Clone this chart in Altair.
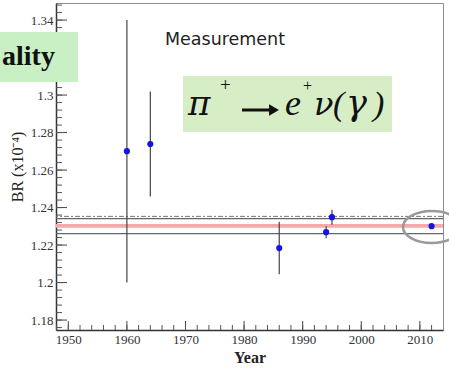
import altair as alt
import pandas as pd

# ---- data ----
years = [1960, 1964, 1986, 1994, 1995, 2012]
br = [1.2701, 1.2739, 1.2184, 1.2269, 1.2349, 1.2301]
br_err = [0.0700, 0.0280, 0.0140, 0.0032, 0.0040, 0.0004]

ref_dashed = [1.2353]
ref_solid = [1.2341, 1.2261]
band_lo = [1.2293]
band_hi = [1.2312]

y_major = [1.18, 1.20, 1.22, 1.24, 1.26, 1.28, 1.30, 1.32, 1.34]
y_labels = [1.18, 1.20, 1.22, 1.24, 1.26, 1.28, 1.30, 1.34]  # 1.32 is hidden by the box
x_labels = [1950, 1960, 1970, 1980, 1990, 2000, 2010]
y_minor = [round(1.176 + 0.004 * i, 3) for i in range(44)]
x_minor = [1948 + 2 * i for i in range(33)]

X_DOMAIN = [1947.9, 2013.95]
Y_DOMAIN = [1.1747, 1.3491]

W, H = 387, 327
SERIF = "Liberation Serif"
GREEK = "DejaVu Serif"

df = pd.DataFrame({"year": years, "br": br,
                   "lo": [b - e for b, e in zip(br, br_err)],
                   "hi": [b + e for b, e in zip(br, br_err)]})

xs = alt.Scale(domain=X_DOMAIN, nice=False, zero=False)
ys = alt.Scale(domain=Y_DOMAIN, nice=False, zero=False)

x_axis = alt.Axis(values=x_labels, format="d", title="Year", ticks=False, tickSize=0,
                  labelPadding=3, titlePadding=3, grid=False)
y_axis = alt.Axis(values=y_labels, format=".3~g", title="BR (x10⁻⁴)", ticks=False, tickSize=0,
                  labelPadding=3, titlePadding=5, grid=False)


def X(f, **kw):
    return alt.X(f, type="quantitative", scale=xs, axis=x_axis, **kw)


def Y(f, **kw):
    return alt.Y(f, type="quantitative", scale=ys, axis=y_axis, **kw)


one = pd.DataFrame({"a": [0]})

band = alt.Chart(pd.DataFrame({"lo": band_lo, "hi": band_hi})).mark_rect(
    color="#f7a9a9").encode(y=Y("lo"), y2="hi")

dashed = alt.Chart(pd.DataFrame({"v": ref_dashed})).mark_rule(
    color="#777777", strokeWidth=1, strokeDash=[5, 2, 2, 2]).encode(y=Y("v"))
solid = alt.Chart(pd.DataFrame({"v": ref_solid})).mark_rule(
    color="#666666", strokeWidth=1.2).encode(y=Y("v"))

errs = alt.Chart(df).mark_rule(color="#444444", strokeWidth=1.2).encode(
    x=X("year"), y=Y("lo"), y2="hi")
pts = alt.Chart(df).mark_circle(size=38, color="#1414e6", opacity=1).encode(
    x=X("year"), y=Y("br"))

ell_path = ("M1,0C1,0.304,0.552,0.55,0,0.55C-0.552,0.55,-1,0.304,-1,0"
            "C-1,-0.304,-0.552,-0.55,0,-0.55C0.552,-0.55,1,-0.304,1,0Z")
ellipse = alt.Chart(one).mark_point(shape=ell_path, size=3364, filled=False,
                                    stroke="#9a9a9a", strokeWidth=2.5, opacity=1).encode(
    x=alt.value(376), y=alt.value(224))

ytm = alt.Chart(pd.DataFrame({"v": y_major})).mark_rule(color="#444", strokeWidth=1).encode(
    y=Y("v"), x=alt.value(0), x2=alt.value(11))
ytn = alt.Chart(pd.DataFrame({"v": y_minor})).mark_rule(color="#555", strokeWidth=1).encode(
    y=Y("v"), x=alt.value(0), x2=alt.value(6))
xtm = alt.Chart(pd.DataFrame({"v": x_labels})).mark_rule(color="#444", strokeWidth=1).encode(
    x=X("v"), y=alt.value(H), y2=alt.value(H - 9))
xtn = alt.Chart(pd.DataFrame({"v": x_minor})).mark_rule(color="#555", strokeWidth=1).encode(
    x=X("v"), y=alt.value(H), y2=alt.value(H - 5))

meas = alt.Chart(pd.DataFrame({"t": ["Measurement"]})).mark_text(
    font="DejaVu Sans", fontSize=17.5, color="#222", align="center", baseline="alphabetic").encode(
    text="t:N", x=alt.value(169), y=alt.value(42))

box1 = alt.Chart(one).mark_rect(color="#c8f0c4").encode(
    x=alt.value(-56), x2=alt.value(22), y=alt.value(29), y2=alt.value(79))
txt1 = alt.Chart(pd.DataFrame({"t": ["ality"]})).mark_text(
    font=SERIF, fontSize=28, fontWeight="bold", color="#111", align="left", baseline="alphabetic").encode(
    text="t:N", x=alt.value(-54), y=alt.value(62))

box2 = alt.Chart(one).mark_rect(color="#d6edc6").encode(
    x=alt.value(127), x2=alt.value(336), y=alt.value(73), y2=alt.value(129))


def piece(t, x, y, size, font=SERIF, italic=True):
    return alt.Chart(pd.DataFrame({"t": [t]})).mark_text(
        font=font, fontSize=size, fontStyle="italic" if italic else "normal",
        color="#111", align="left", baseline="alphabetic").encode(
        text="t:N", x=alt.value(x), y=alt.value(y))


formula = [
    piece("π", 132, 112, 34, font=GREEK),
    piece("+", 164, 88, 19, italic=False),
    piece("e", 229, 112, 36),
    piece("+", 247, 88, 16, italic=False),
    piece("ν", 258, 112, 32, font=GREEK),
    piece("(", 277, 112, 34),
    piece("γ", 290, 112, 35, font=GREEK),
    piece(")", 317, 112, 34),
]
arrow_line = alt.Chart(one).mark_rule(color="#111", strokeWidth=3).encode(
    x=alt.value(186), x2=alt.value(215), y=alt.value(107))
arrow_head = alt.Chart(one).mark_point(shape="triangle-right", size=130, filled=True,
                                       color="#111", opacity=1).encode(
    x=alt.value(218), y=alt.value(107))

chart = alt.layer(band, dashed, solid, errs, pts, ellipse, ytm, ytn, xtm, xtn,
                  meas, box1, txt1, box2, *formula, arrow_line, arrow_head).properties(
    width=W, height=H,
    padding={"left": 56, "top": 3, "right": 6, "bottom": 38},
    autosize=alt.AutoSizeParams(type="none"),
    background="white",
).configure_view(stroke="#8c8c8c", strokeWidth=1).configure_axis(
    domainColor="#333", domainWidth=1.5, labelFont=SERIF, labelFontSize=13, labelColor="#333",
    titleFont=SERIF, titleColor="#222",
).configure_axisX(titleFontSize=16, titleFontWeight="bold").configure_axisY(
    titleFontSize=16, titleFontWeight="normal")

chart.save("out.html", embed_options={"renderer": "svg", "actions": False})
